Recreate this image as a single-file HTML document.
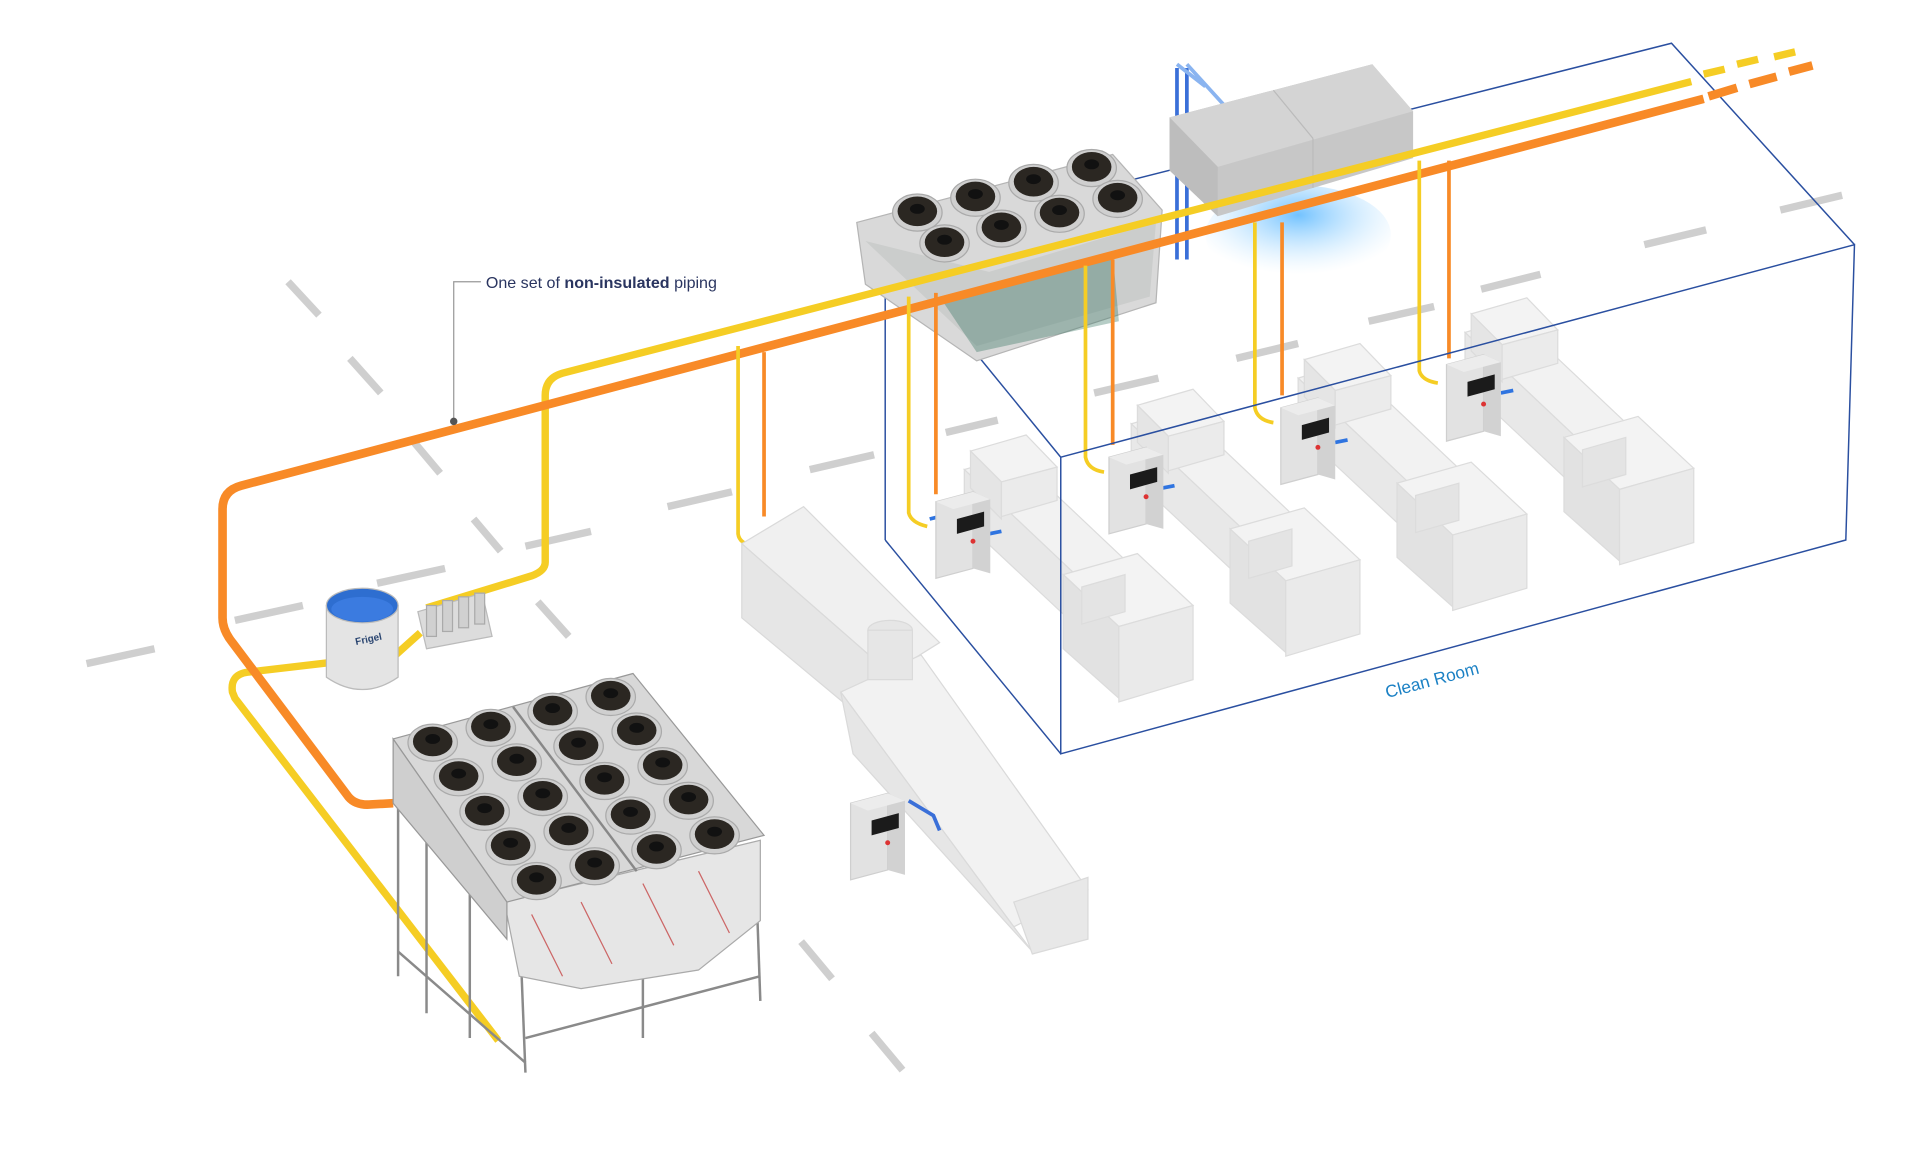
<!DOCTYPE html>
<html><head><meta charset="utf-8"><style>
html,body{margin:0;padding:0;background:#fff;}
svg{display:block;}
</style></head><body>
<svg width="1920" height="1169" viewBox="0 0 1553 946" preserveAspectRatio="none" xmlns="http://www.w3.org/2000/svg">
<defs>
<radialGradient id="glow" cx="50%" cy="30%" r="60%">
<stop offset="0" stop-color="#4fb3ff" stop-opacity="0.8"/>
<stop offset="1" stop-color="#bfe4ff" stop-opacity="0"/>
</radialGradient>
<g id="fan"><ellipse cx="0" cy="0" rx="20" ry="15" fill="#cfcfcf" stroke="#aaa" stroke-width="1"/><ellipse cx="0" cy="-1" rx="16" ry="12" fill="#2b2722"/><ellipse cx="0" cy="-3" rx="6" ry="4" fill="#111"/></g>
<g id="ctrl">
<polygon points="0,8 30,0 30,62 0,70" fill="#e2e2e2" stroke="#cfcfcf"/>
<polygon points="30,0 44,6 44,66 30,62" fill="#d2d2d2"/>
<polygon points="0,8 30,0 44,6 14,14" fill="#ececec"/>
<polygon points="17,22 39,16 39,28 17,34" fill="#1b1b1b"/>
<circle cx="30" cy="40" r="2" fill="#d33"/>
</g>
<g id="mach" fill="#ededed" stroke="#dcdcdc" stroke-width="1">
<polygon points="0,20 40,8 150,112 110,124" fill="#f2f2f2"/>
<polygon points="0,20 110,124 110,165 0,62" fill="#e8e8e8"/>
<polygon points="5,5 50,-8 75,18 30,30" fill="#f3f3f3"/>
<polygon points="5,5 30,30 30,60 5,35" fill="#e5e5e5"/>
<polygon points="30,30 75,18 75,45 30,58" fill="#ebebeb"/>
<polygon points="80,105 140,88 185,130 125,147" fill="#f3f3f3"/>
<polygon points="80,105 125,147 125,205 80,165" fill="#e2e2e2"/>
<polygon points="125,147 185,130 185,190 125,208" fill="#eaeaea"/>
<polygon points="95,115 130,105 130,135 95,145" fill="#e4e4e4"/>
</g>
</defs>
<rect width="1553" height="946" fill="#fff"/>
<g stroke="#cfcfcf" stroke-width="6" stroke-linecap="butt">
<line x1="70" y1="537" x2="125" y2="525"/><line x1="190" y1="502" x2="245" y2="490"/><line x1="305" y1="472" x2="360" y2="460"/>
<line x1="425" y1="442" x2="478" y2="430"/><line x1="540" y1="410" x2="592" y2="398"/><line x1="655" y1="380" x2="707" y2="368"/>
<line x1="765" y1="350" x2="807" y2="340"/><line x1="885" y1="318" x2="937" y2="306"/><line x1="1000" y1="290" x2="1050" y2="278"/>
<line x1="1107" y1="260" x2="1160" y2="248"/><line x1="1198" y1="234" x2="1246" y2="222"/><line x1="1330" y1="198" x2="1380" y2="186"/><line x1="1440" y1="170" x2="1490" y2="158"/>
<line x1="233" y1="228" x2="258" y2="255"/><line x1="283" y1="290" x2="308" y2="318"/><line x1="335" y1="358" x2="356" y2="383"/>
<line x1="383" y1="420" x2="405" y2="446"/><line x1="435" y1="487" x2="460" y2="515"/><line x1="648" y1="762" x2="673" y2="792"/><line x1="705" y1="836" x2="730" y2="866"/>
</g>
<g stroke="#2a4fa0" stroke-width="1.2" fill="none">
<polyline points="716,437 716,196 1352,35 1500,198"/>
<line x1="716" y1="196" x2="858" y2="370"/>
<line x1="716" y1="437" x2="858" y2="610"/>
</g>
<polygon points="693,180 900,125 940,170 935,245 790,292 700,230" fill="#d9d9d9" stroke="#b5b5b5"/>
<polygon points="700,195 790,280 930,240 935,180 800,220" fill="#cbcdcc"/>
<polygon points="760,240 900,205 905,260 790,285" fill="#2e6f5b" opacity="0.35"/>
<g>
<use href="#fan" x="742" y="172"/><use href="#fan" x="789" y="160"/><use href="#fan" x="836" y="148"/><use href="#fan" x="883" y="136"/>
<use href="#fan" x="764" y="197"/><use href="#fan" x="810" y="185"/><use href="#fan" x="857" y="173"/><use href="#fan" x="904" y="161"/>
</g>
<ellipse cx="1050" cy="190" rx="75" ry="40" fill="url(#glow)"/>
<path d="M952,55 L952,210 M960,55 L960,210" stroke="#3a6fd8" stroke-width="3" fill="none"/>
<path d="M952,52 L975,70 M960,52 L990,85" stroke="#8ab4f0" stroke-width="3"/>
<polygon points="946,95 1110,52 1143,90 1143,128 985,175 946,138" fill="#c7c7c7"/>
<polygon points="946,95 1110,52 1143,90 985,135" fill="#d4d4d4"/>
<polygon points="946,95 985,135 985,175 946,138" fill="#bdbdbd"/>
<line x1="1030" y1="73" x2="1062" y2="112" stroke="#bbb"/><line x1="1062" y1="112" x2="1062" y2="152" stroke="#bbb"/>
<g fill="none" stroke-linecap="butt">
<path d="M1368,66 L455,302 Q441,306 441,320 L441,455 Q441,462 430,466 L345,492" stroke="#f5cd24" stroke-width="6"/>
<path d="M340,512 L320,530 L200,544 Q186,546 188,560 L190,565 L403,842" stroke="#f5cd24" stroke-width="6"/>
<path d="M1378,80 L195,393 Q180,397 180,412 L180,500 Q180,510 188,520 L282,645 Q288,652 300,651 L318,650" stroke="#f88a27" stroke-width="7"/>
<path d="M1378,60 L1395,56 M1405,52 L1422,48 M1435,46 L1452,42" stroke="#f5cd24" stroke-width="6"/>
<path d="M1382,78 L1405,71 M1415,68 L1437,62 M1447,58 L1466,53" stroke="#f88a27" stroke-width="7"/>
<g stroke="#f5cd24" stroke-width="3">
<path d="M597,280 L597,432 Q598,440 610,442"/>
<path d="M735,240 L735,415 Q737,423 750,426"/>
<path d="M878,215 L878,370 Q880,380 893,382"/>
<path d="M1015,180 L1015,330 Q1017,340 1030,342"/>
<path d="M1148,130 L1148,300 Q1150,308 1163,310"/>
</g>
<g stroke="#f88a27" stroke-width="3">
<path d="M618,285 L618,418"/><path d="M757,237 L757,400"/><path d="M900,210 L900,360"/><path d="M1037,180 L1037,320"/><path d="M1172,130 L1172,290"/>
</g>
</g>
<polygon points="338,495 390,480 398,515 345,525" fill="#dcdcdc" stroke="#bbb"/>
<g fill="#d0d0d0" stroke="#aaa"><rect x="345" y="490" width="8" height="25"/><rect x="358" y="486" width="8" height="25"/><rect x="371" y="483" width="8" height="25"/><rect x="384" y="480" width="8" height="25"/></g>
<path d="M264,490 L264,548 Q293,568 322,548 L322,490 Z" fill="#e4e4e4" stroke="#bbb"/>
<ellipse cx="293" cy="490" rx="29" ry="14" fill="#2e6ed0" stroke="#bbb"/>
<ellipse cx="293" cy="493" rx="25" ry="10" fill="#3b7be0"/>
<text x="288" y="522" font-family="Liberation Sans, sans-serif" font-size="8" font-weight="bold" fill="#2a4570" transform="rotate(-12 288 522)">Frigel</text>
<g fill="#ececec" stroke="#dadada">
<polygon points="600,440 650,410 760,520 720,545" fill="#f0f0f0"/>
<polygon points="600,440 720,545 720,600 600,500" fill="#e6e6e6"/>
<polygon points="680,560 745,530 880,720 820,750" fill="#f2f2f2"/>
<polygon points="680,560 820,750 835,770 690,610" fill="#e6e6e6"/>
<polygon points="820,730 880,710 880,760 835,772" fill="#e8e8e8"/>
<ellipse cx="720" cy="510" rx="18" ry="8" fill="#e6e6e6"/>
<rect x="702" y="510" width="36" height="40" fill="#e6e6e6"/>
</g>
<path d="M735,648 L755,660 L760,672" stroke="#3a6fd8" stroke-width="3" fill="none"/>
<use href="#ctrl" x="688" y="642"/>
<use href="#mach" x="780" y="360"/>
<use href="#mach" x="915" y="323"/>
<use href="#mach" x="1050" y="286"/>
<use href="#mach" x="1185" y="249"/>
<g stroke="#2f74e0" stroke-width="3"><line x1="752" y1="420" x2="760" y2="418"/><line x1="800" y1="432" x2="810" y2="430"/><line x1="940" y1="395" x2="950" y2="393"/><line x1="1080" y1="358" x2="1090" y2="356"/><line x1="1214" y1="318" x2="1224" y2="316"/></g>
<use href="#ctrl" x="757" y="398"/>
<use href="#ctrl" x="897" y="362"/>
<use href="#ctrl" x="1036" y="322"/>
<use href="#ctrl" x="1170" y="287"/>
<g stroke="#8a8a8a" stroke-width="2">
<line x1="322" y1="650" x2="322" y2="790"/><line x1="345" y1="680" x2="345" y2="820"/><line x1="420" y1="740" x2="425" y2="868"/>
<line x1="520" y1="760" x2="520" y2="840"/><line x1="612" y1="725" x2="615" y2="810"/><line x1="380" y1="720" x2="380" y2="840"/>
<line x1="425" y1="840" x2="615" y2="790"/><line x1="322" y1="770" x2="425" y2="860"/>
</g>
<polygon points="408,730 615,680 615,745 565,785 470,800 420,790" fill="#e6e6e6" stroke="#aaa"/>
<g stroke="#c66" stroke-width="1" fill="none"><path d="M430,740 L455,790 M470,730 L495,780 M520,715 L545,765 M565,705 L590,755"/></g>
<polygon points="318,598 512,545 618,676 410,730" fill="#d8d8d8" stroke="#999"/>
<polygon points="318,598 410,730 410,760 318,650" fill="#cfcfcf" stroke="#999"/>
<line x1="415" y1="572" x2="515" y2="705" stroke="#888" stroke-width="2"/>
<g>
<use href="#fan" x="350" y="601"/><use href="#fan" x="397" y="589"/><use href="#fan" x="447" y="576"/><use href="#fan" x="494" y="564"/>
<use href="#fan" x="371" y="629"/><use href="#fan" x="418" y="617"/><use href="#fan" x="468" y="604"/><use href="#fan" x="515" y="592"/>
<use href="#fan" x="392" y="657"/><use href="#fan" x="439" y="645"/><use href="#fan" x="489" y="632"/><use href="#fan" x="536" y="620"/>
<use href="#fan" x="413" y="685"/><use href="#fan" x="460" y="673"/><use href="#fan" x="510" y="660"/><use href="#fan" x="557" y="648"/>
<use href="#fan" x="434" y="713"/><use href="#fan" x="481" y="701"/><use href="#fan" x="531" y="688"/><use href="#fan" x="578" y="676"/>
</g>
<g stroke="#2a4fa0" stroke-width="1.2" fill="none">
<polygon points="858,370 1500,198 1493,437 858,610"/>
</g>
<text x="1122" y="565" font-family="Liberation Sans, sans-serif" font-size="14" fill="#1a80c4" transform="rotate(-15 1122 565)">Clean Room</text>
<path d="M389,228 L367,228 L367,340" stroke="#999" stroke-width="1" fill="none"/>
<circle cx="367" cy="341" r="3" fill="#555"/>
<text x="393" y="233" font-family="Liberation Sans, sans-serif" font-size="13" fill="#2a3560">One set of <tspan font-weight="bold">non-insulated</tspan> piping</text>
</svg>
</body></html>
